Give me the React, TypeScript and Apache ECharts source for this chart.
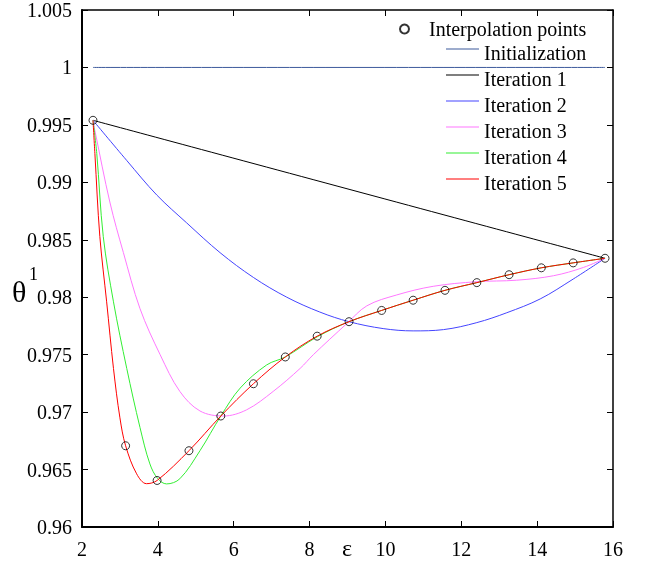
import React, { useEffect, useRef } from "react";
import * as echarts from "echarts";

const xTicks = [2, 4, 6, 8, 10, 12, 14, 16];
const yTicks = [0.96, 0.965, 0.97, 0.975, 0.98, 0.985, 0.99, 0.995, 1, 1.005];

const interpX = [2.29, 3.15, 3.98, 4.82, 5.66, 6.52, 7.36, 8.2, 9.04, 9.9, 10.73, 11.57, 12.41, 13.26, 14.11, 14.95, 15.79];
const interpY = [0.9954, 0.96707, 0.96405, 0.96664, 0.96966, 0.97247, 0.9748, 0.97661, 0.97787, 0.97885, 0.97974, 0.9806, 0.98127, 0.98196, 0.98256, 0.98299, 0.98339];

const initData = [[2.29, 1.0], [15.79, 1.0]];
const iter1Data = [[2.29, 0.9954], [15.79, 0.98339]];
const iter2Data = [
  [2.29, 0.9954], [3.18, 0.9919], [3.97, 0.9889], [4.76, 0.98647], [5.64, 0.98388],
  [6.52, 0.98172], [7.4, 0.98], [8.27, 0.97871], [9.04, 0.97787], [9.94, 0.97727],
  [10.73, 0.97707], [11.53, 0.97718], [12.41, 0.97779], [13.2, 0.97865], [14.08, 0.97985],
  [14.95, 0.98158], [15.79, 0.98339],
];
const iter3Data = [
  [2.29, 0.9954], [2.34, 0.9945], [2.74, 0.9882], [3.09, 0.9839], [3.53, 0.979],
  [4.06, 0.975], [4.58, 0.9718], [5.11, 0.9701], [5.73, 0.96966], [6.34, 0.9702],
  [7.04, 0.9718], [7.75, 0.9738], [8.1, 0.975], [8.98, 0.9777], [9.51, 0.97925],
  [10.3, 0.9802], [11.26, 0.98095], [12.4, 0.98135], [13.46, 0.98148], [14.43, 0.98187],
  [15.22, 0.98259], [15.79, 0.98339],
];
const iter4Data = [
  [2.29, 0.9954], [2.39, 0.9925], [2.56, 0.9853], [2.83, 0.9796], [3.18, 0.9738],
  [3.53, 0.96865], [3.79, 0.96549], [4.0, 0.9642], [4.23, 0.96375], [4.58, 0.9642],
  [5.11, 0.96664], [5.66, 0.96966], [6.17, 0.97209], [6.87, 0.97411], [7.36, 0.9748],
  [8.2, 0.97655], [9.04, 0.97787], [9.9, 0.97885], [10.73, 0.97974], [11.57, 0.9806],
  [12.41, 0.98127], [13.26, 0.98196], [14.11, 0.98256], [14.95, 0.98299], [15.79, 0.98339],
];
const iter5Data = [
  [2.29, 0.9954], [2.34, 0.9925], [2.47, 0.9853], [2.65, 0.9796], [2.83, 0.9738],
  [3.0, 0.9695], [3.15, 0.96707], [3.44, 0.96463], [3.7, 0.96377], [3.98, 0.96405],
  [4.82, 0.96664], [5.66, 0.96966], [6.52, 0.97247], [7.36, 0.9748], [8.2, 0.97661],
  [9.04, 0.97787], [9.9, 0.97885], [10.73, 0.97974], [11.57, 0.9806], [12.41, 0.98127],
  [13.26, 0.98196], [14.11, 0.98256], [14.95, 0.98299], [15.79, 0.98339],
];

const seriesNames = ["Interpolation points", "Initialization", "Iteration 1", "Iteration 2", "Iteration 3", "Iteration 4", "Iteration 5"];
const seriesColors = ["#000000", "#3d5a9c", "#000000", "#4444ff", "#ff77ff", "#33ee33", "#ff0000"];

const FONT = "Liberation Serif";
const LINE_ICON = "path://M0,0 L33,0 L33,1 L0,1 Z M0,9 L0.01,9 L0.01,9.01 L0,9.01 Z";

export default function App() {
  const ref = useRef<HTMLDivElement>(null);
  useEffect(() => {
    if (!ref.current) return;
    const chart = echarts.init(ref.current, undefined, { renderer: "svg" });
    const lineSeries = (name: string, data: number[][], color: string, z: number) => ({
      name,
      type: "line",
      data,
      symbol: "none",
      smooth: 0.35,
      lineStyle: { color, width: 1 },
      itemStyle: { color },
      z,
    });
    const axisLabel = { fontFamily: FONT, fontSize: 20, color: "#000" };
    chart.setOption({
      animation: false,
      grid: { left: 82, right: 37, top: 6, bottom: 41 },
      xAxis: [
        {
          type: "value",
          position: "bottom",
          min: xTicks[0],
          max: xTicks[xTicks.length - 1],
          interval: 2,
          axisLine: { show: true, lineStyle: { color: "#000", width: 2 } },
          axisTick: { show: true, inside: true, length: 6, lineStyle: { color: "#000" } },
          axisLabel: { ...axisLabel, margin: 12 },
          splitLine: { show: false },
        },
        {
          type: "value",
          position: "top",
          min: xTicks[0],
          max: xTicks[xTicks.length - 1],
          interval: 2,
          axisLine: { show: true, lineStyle: { color: "#000", width: 1.5 } },
          axisTick: { show: true, inside: true, length: 6, lineStyle: { color: "#000" } },
          axisLabel: { show: false },
          splitLine: { show: false },
        },
      ],
      yAxis: [
        {
          type: "value",
          position: "left",
          min: yTicks[0],
          max: yTicks[yTicks.length - 1],
          interval: 0.005,
          axisLine: { show: true, lineStyle: { color: "#000", width: 2 } },
          axisTick: { show: true, inside: true, length: 6, lineStyle: { color: "#000" } },
          axisLabel: { ...axisLabel, margin: 10 },
          splitLine: { show: false },
        },
        {
          type: "value",
          position: "right",
          min: yTicks[0],
          max: yTicks[yTicks.length - 1],
          interval: 0.005,
          axisLine: { show: true, lineStyle: { color: "#000", width: 1.5 } },
          axisTick: { show: true, inside: true, length: 6, lineStyle: { color: "#000" } },
          axisLabel: { show: false },
          splitLine: { show: false },
        },
      ],
      legend: [
        {
          data: [seriesNames[0]],
          orient: "vertical",
          align: "left",
          left: 399,
          top: 19,
          padding: 0,
          itemWidth: 9,
          itemHeight: 9,
          selectedMode: false,
          textStyle: { fontFamily: FONT, fontSize: 20, color: "#000", padding: [0, 0, 0, 15] },
        },
        {
          data: seriesNames.slice(1).map((name) => ({ name, icon: LINE_ICON })),
          orient: "vertical",
          align: "left",
          left: 446,
          top: 43,
          padding: 0,
          itemWidth: 33,
          itemHeight: 14,
          itemGap: 6,
          selectedMode: false,
          textStyle: { fontFamily: FONT, fontSize: 20, color: "#000" },
        },
      ],
      graphic: [
        { type: "text", left: 12, top: 276, style: { text: "θ", fontFamily: FONT, fontSize: 30, fill: "#000" } },
        { type: "text", left: 29, top: 265, style: { text: "1", fontFamily: FONT, fontSize: 18, fill: "#000" } },
        { type: "text", left: 342, top: 536, style: { text: "ε", fontFamily: FONT, fontSize: 24, fill: "#000" } },
      ],
      series: [
        {
          name: seriesNames[0],
          type: "scatter",
          data: interpX.map((x, i) => [x, interpY[i]]),
          symbol: "circle",
          symbolSize: 8,
          itemStyle: { color: "rgba(255,255,255,0)", borderColor: "#000", borderWidth: 1 },
          z: 10,
        },
        lineSeries(seriesNames[1], initData, seriesColors[1], 2),
        lineSeries(seriesNames[2], iter1Data, seriesColors[2], 2),
        lineSeries(seriesNames[3], iter2Data, seriesColors[3], 3),
        lineSeries(seriesNames[4], iter3Data, seriesColors[4], 4),
        lineSeries(seriesNames[5], iter4Data, seriesColors[5], 5),
        lineSeries(seriesNames[6], iter5Data, seriesColors[6], 6),
      ],
    });
    return () => chart.dispose();
  }, []);
  return <div ref={ref} style={{ position: "fixed", left: 0, top: 0, width: 650, height: 568 }} />;
}
